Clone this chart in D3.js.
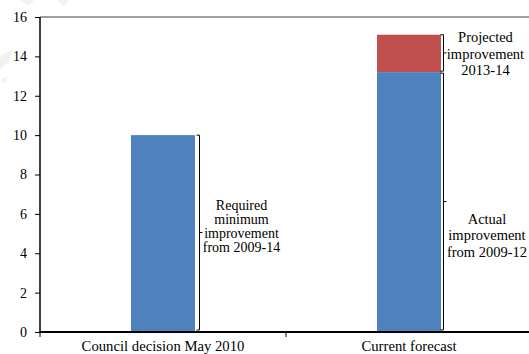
<!DOCTYPE html>
<html><head><meta charset="utf-8">
<script src="https://cdn.jsdelivr.net/npm/d3@7"></script>
<style>body{margin:0;background:#fff}svg{display:block}text{font-family:"Liberation Serif","Times New Roman",serif;fill:#000}</style>
</head><body>
<svg id="c" width="529" height="354"></svg>
<script>
const categories = ["Council decision May 2010", "Current forecast"];
const actualValues = [10, 13.2];
const projectedValues = [0, 1.9];
const yTicks = [0, 2, 4, 6, 8, 10, 12, 14, 16];
const labelRequired = ["Required", "minimum", "improvement", "from 2009-14"];
const labelProjected = ["Projected", "improvement", "2013-14"];
const labelActual = ["Actual", "improvement", "from 2009-12"];

const svg = d3.select("#c");
const mLeft = 40, mRight = 532, mTop = 17, mBottom = 332;
const x = d3.scaleBand().domain(categories).range([mLeft, mRight]).paddingInner(0.74).paddingOuter(0.37);
const xc = d3.scaleBand().domain(categories).range([mLeft, mRight]);
const y = d3.scaleLinear().domain([0, 16]).range([mBottom, mTop]);

// faint background watermark shapes
const wm = ["M20,0L34,0L29,6Z", "M57,0L69,0L64,6Z", "M0,56L12,50L10,60L0,70Z", "M0,80L8,76L5,84Z"];
svg.selectAll(".wm").data(wm).join("path").attr("d", d => d).attr("fill", "#f2f2f2");

// plot border top
svg.append("line").attr("x1", mLeft).attr("x2", 529).attr("y1", y(16)).attr("y2", y(16))
  .attr("stroke", "#808080").attr("stroke-width", 1.5);

// bars
const blue = "#4F81BD", red = "#C0504D";
svg.selectAll(".a").data(categories).join("rect")
  .attr("x", d => x(d)).attr("width", x.bandwidth())
  .attr("y", (d, i) => y(actualValues[i])).attr("height", (d, i) => y(0) - y(actualValues[i]))
  .attr("fill", blue);
svg.selectAll(".p").data(categories.filter((d, i) => projectedValues[i] > 0)).join("rect")
  .attr("x", d => x(d)).attr("width", x.bandwidth())
  .attr("y", d => { const i = categories.indexOf(d); return y(actualValues[i] + projectedValues[i]); })
  .attr("height", d => { const i = categories.indexOf(d); return y(actualValues[i]) - y(actualValues[i] + projectedValues[i]); })
  .attr("fill", red);

// y axis
const ya = svg.append("g").attr("transform", `translate(${mLeft},0)`)
  .call(d3.axisLeft(y).tickValues(yTicks).tickSize(5).tickPadding(8).tickFormat(d3.format("d")));
ya.select(".domain").remove();
ya.selectAll("line").attr("stroke", "#000");
ya.selectAll("text").attr("font-size", 14).attr("font-family", null);
svg.append("line").attr("x1", mLeft).attr("x2", mLeft).attr("y1", y(16)).attr("y2", mBottom)
  .attr("stroke", "#000").attr("stroke-width", 1.5);

// x axis
svg.append("line").attr("x1", mLeft).attr("x2", 529).attr("y1", mBottom).attr("y2", mBottom)
  .attr("stroke", "#000").attr("stroke-width", 2);
svg.selectAll(".xt").data([mLeft, xc(categories[1])]).join("line")
  .attr("x1", d => d).attr("x2", d => d).attr("y1", mBottom).attr("y2", mBottom + 5).attr("stroke", "#000");
svg.selectAll(".xl").data(categories).join("text")
  .attr("x", d => x(d) + x.bandwidth() / 2).attr("y", 351)
  .attr("text-anchor", "middle").attr("font-size", 14.7).text(d => d);

// brackets
function bracket(bx, y1, y2) {
  const m = (y1 + y2) / 2;
  svg.append("path")
    .attr("d", `M${bx - 3},${y1}H${bx}V${y2}H${bx - 3}M${bx},${m}H${bx + 3}`)
    .attr("fill", "none").attr("stroke", "#000").attr("stroke-width", 1);
}
function label(lines, cx, y0, dy, fs) {
  svg.append("text").attr("text-anchor", "middle").attr("font-size", fs)
    .selectAll("tspan").data(lines).join("tspan")
    .attr("x", cx).attr("y", (d, i) => y0 + i * dy).text(d => d);
}
const b0 = x(categories[0]) + x.bandwidth(), b1 = x(categories[1]) + x.bandwidth();
bracket(b0 + 4.5, y(actualValues[0]), y(0) - 2);
bracket(b1 + 2.5, y(actualValues[1] + projectedValues[1]), y(actualValues[1]) - 1);
bracket(b1 + 2.5, y(actualValues[1]) + 1, y(0) - 2);
label(labelRequired, 241.5, 210, 14, 14);
label(labelProjected, 485.5, 42, 16.5, 14.5);
label(labelActual, 487, 223.5, 16.5, 14.5);
</script>
</body></html>
